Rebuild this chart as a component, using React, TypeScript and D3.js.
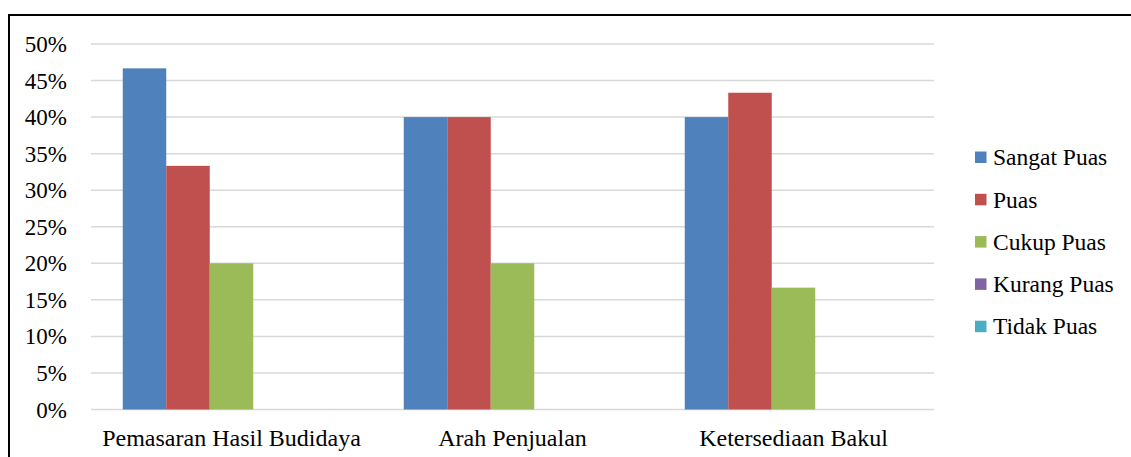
import React from "react";
import * as d3 from "d3";

const categories = ["Pemasaran Hasil Budidaya", "Arah Penjualan", "Ketersediaan Bakul"];
const seriesNames = ["Sangat Puas", "Puas", "Cukup Puas", "Kurang Puas", "Tidak Puas"];
const seriesColors = ["#4F81BD", "#C0504D", "#9BBB59", "#8064A2", "#4BACC6"];
const sangatPuas = [0.4667, 0.4, 0.4];
const puas = [0.3333, 0.4, 0.4333];
const cukupPuas = [0.2, 0.2, 0.1667];
const kurangPuas = [0, 0, 0];
const tidakPuas = [0, 0, 0];
const yTicks = [0, 0.05, 0.1, 0.15, 0.2, 0.25, 0.3, 0.35, 0.4, 0.45, 0.5];

const seriesValues = [sangatPuas, puas, cukupPuas, kurangPuas, tidakPuas];

const W = 1131;
const H = 457;
const FONT = "Liberation Serif, DejaVu Serif, serif";

export default function App() {
  const left = 91;
  const right = 934;
  const top = 44;
  const bottom = 409.5;
  const x0 = d3.scaleBand<string>().domain(categories).range([left, right]).paddingInner(0.226).paddingOuter(0.113);
  const x1 = d3.scaleBand<string>().domain(seriesNames).range([0, x0.bandwidth()]);
  const y = d3.scaleLinear().domain([0, 0.5]).range([bottom, top]);
  const fmt = d3.format(".0%");

  return (
    <svg width={W} height={H} style={{ position: "absolute", left: 0, top: 0, background: "#fff" }}>
      <rect x={0} y={0} width={W} height={H} fill="#fff" />
      <rect x={9} y={15} width={W + 20} height={H + 20} fill="none" stroke="#000" strokeWidth={2} />
      {yTicks.map((t) => (
        <g key={t}>
          <line x1={left} x2={right} y1={y(t)} y2={y(t)} stroke="#D9D9D9" strokeWidth={1.5} />
          <text x={67} y={y(t)} dy="0.35em" textAnchor="end" style={{ fontFamily: FONT }} fontSize={23} fill="#000">
            {fmt(t)}
          </text>
        </g>
      ))}
      {categories.map((c, ci) => (
        <g key={c}>
          {seriesNames.map((s, si) => {
            const v = seriesValues[si][ci];
            if (v <= 0) return null;
            return (
              <rect
                key={s}
                x={(x0(c) as number) + (x1(s) as number)}
                y={y(v)}
                width={x1.bandwidth()}
                height={y(0) - y(v)}
                fill={seriesColors[si]}
              />
            );
          })}
          <text
            x={(x0(c) as number) + x0.bandwidth() / 2}
            y={446}
            textAnchor="middle"
            style={{ fontFamily: FONT }}
            fontSize={24}
            fill="#000"
          >
            {c}
          </text>
        </g>
      ))}
      {seriesNames.map((s, i) => (
        <g key={s} transform={`translate(975, ${157 + i * 42.3})`}>
          <rect x={0} y={-5.5} width={11.5} height={11.5} fill={seriesColors[i]} />
          <text x={18} y={0} dy="0.35em" style={{ fontFamily: FONT }} fontSize={23.5} fill="#000">
            {s}
          </text>
        </g>
      ))}
    </svg>
  );
}
